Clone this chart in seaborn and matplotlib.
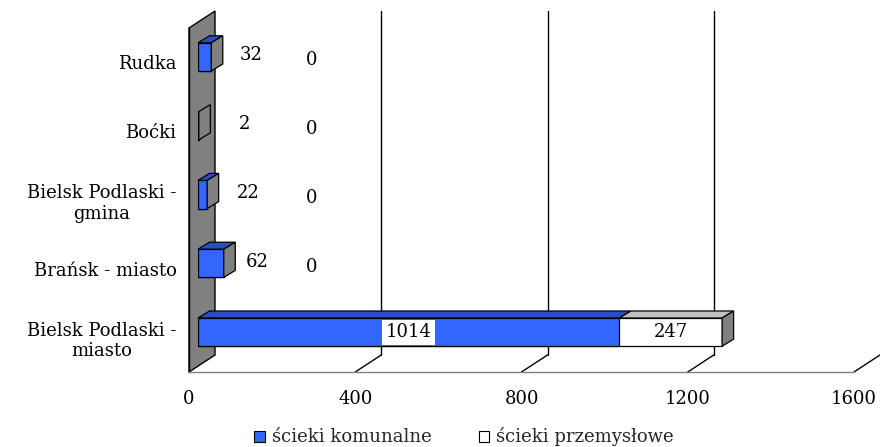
import matplotlib
matplotlib.use("Agg")
import numpy as np
import pandas as pd
import seaborn as sns
import matplotlib.pyplot as plt
from matplotlib.patches import Polygon, Patch
from matplotlib.lines import Line2D
from matplotlib.transforms import offset_copy

# --- data ---------------------------------------------------------------
gminy = ["Rudka", "Boćki", "Bielsk Podlaski -\ngmina", "Brańsk - miasto",
         "Bielsk Podlaski -\nmiasto"]
komunalne = [32, 2, 22, 62, 1014]
przemyslowe = [0, 0, 0, 0, 247]
x_ticks = [0, 400, 800, 1200, 1600]
series_names = ["ścieki komunalne", "ścieki przemysłowe"]

# --- style --------------------------------------------------------------
sns.set_theme(style="white")
plt.rcParams["font.family"] = ["DejaVu Serif", "DejaVu Sans"]
FS = 13
BLUE = "#3366FF"
BLUE_TOP = "#2A4EC6"
GREY = "#808080"
LIGHT = "#C0C0C0"

W, H = 880, 447
fig = plt.figure(figsize=(W / 100, H / 100), dpi=100)

# front plane of the 3-D box (pixel geometry)
X0, X1, YT, YB = 189, 854, 28, 372
AW, AH = X1 - X0, YB - YT
WALL = (26, 17)      # full depth of the box
BAR_SHIFT = (9, 5.5)  # bars sit a little behind the front plane
BAR_DEPTH = (11.5, 7)

XMAX = x_ticks[-1]
ux = XMAX / AW           # data units per pixel (x)
uy = len(gminy) / AH     # category units per pixel (y)

ax = fig.add_axes([X0 / W, 1 - YB / H, AW / W, AH / H])
bax = fig.add_axes([(X0 + BAR_SHIFT[0]) / W, 1 - (YB - BAR_SHIFT[1]) / H, AW / W, AH / H])
bax.patch.set_alpha(0)

n = len(gminy)
lo, hi = n - 0.5, -0.5

# --- box: wall, floor edges, back grid ----------------------------------
ax.set_xlim(0, XMAX)
ax.set_ylim(lo, hi)
dxw, dyw = WALL[0] * ux, WALL[1] * uy
ax.add_patch(Polygon([(0, lo), (0, hi), (dxw, hi - dyw), (dxw, lo - dyw)],
                     closed=True, facecolor=GREY, edgecolor="black", lw=1,
                     clip_on=False, zorder=1))
for t in x_ticks[1:]:
    if t < XMAX:
        ax.add_line(Line2D([t + dxw, t + dxw], [lo - dyw, hi - dyw], color="black",
                           lw=1, clip_on=False, zorder=0))
    ax.add_line(Line2D([t, t + dxw], [lo, lo - dyw], color="black",
                       lw=1, clip_on=False, zorder=0))

for s in ["top", "right"]:
    ax.spines[s].set_visible(False)
ax.spines["left"].set_color("black")
ax.spines["left"].set_linewidth(1)
ax.spines["bottom"].set_color(GREY)
ax.spines["bottom"].set_linewidth(1)
ax.patch.set_alpha(0)

ax.set_xticks(x_ticks)
ax.set_xticklabels([str(t) for t in x_ticks], fontsize=FS, color="black")
ax.tick_params(axis="x", direction="out", length=6, width=1, color=GREY, pad=7)
ax.set_yticks(range(n))
ax.set_yticklabels(gminy, fontsize=FS, color="black")
for lab in ax.get_yticklabels():
    lab.set_multialignment("center")
ax.tick_params(axis="y", which="major", length=0, pad=9)
ax.set_yticks(np.arange(-0.5, n, 1.0), minor=True)
ax.tick_params(axis="y", which="minor", direction="out", length=8, width=1,
               color="black")

# --- bars ---------------------------------------------------------------
df = pd.DataFrame({"gmina": gminy, "komunalne": komunalne,
                   "przemyslowe": przemyslowe})
df["suma"] = df["komunalne"] + df["przemyslowe"]

BW = 0.41
sns.barplot(data=df, x="suma", y="gmina", order=gminy, color="white",
            saturation=1, width=BW, edgecolor="black", linewidth=0.9, ax=bax)
sns.barplot(data=df, x="komunalne", y="gmina", order=gminy, color=BLUE,
            saturation=1, width=BW, edgecolor="black", linewidth=0.9, ax=bax)
bax.set_xlim(0, XMAX)
bax.set_ylim(lo, hi)
bax.axis("off")

ddx, ddy = BAR_DEPTH[0] * ux, BAR_DEPTH[1] * uy
for i, row in df.iterrows():
    yt, yb = i - BW / 2, i + BW / 2
    segs = [(0, row["komunalne"], BLUE_TOP), (row["komunalne"], row["suma"], LIGHT)]
    for a, b, col in segs:
        if b - a <= 0 or (b - a) / ux < 2:
            continue
        bax.add_patch(Polygon([(a, yt), (b, yt), (b + ddx, yt - ddy), (a + ddx, yt - ddy)],
                              closed=True, facecolor=col, edgecolor="black",
                              lw=0.9, clip_on=False, zorder=3))
    e = row["suma"]
    bax.add_patch(Polygon([(e, yt), (e, yb), (e + ddx, yb - ddy), (e + ddx, yt - ddy)],
                          closed=True, facecolor=GREY, edgecolor="black",
                          lw=0.9, clip_on=False, zorder=3))

# --- value labels -------------------------------------------------------
for i, row in df.iterrows():
    k, p = row["komunalne"], row["przemyslowe"]
    if k / ux > 60:
        bax.text(k / 2, i, str(k), ha="center", va="center", fontsize=FS,
                 color="black", zorder=5,
                 bbox=dict(facecolor="white", edgecolor="none", pad=2.5))
        bax.text(k + p / 2, i, str(p), ha="center", va="center", fontsize=FS,
                 color="black", zorder=5)
    else:
        tr_k = offset_copy(bax.transData, fig=fig, x=46, y=1.5, units="dots")
        bax.text(k / 2, i, str(k), ha="center", va="center", fontsize=FS,
                 color="black", transform=tr_k, zorder=5)
        tr_p = offset_copy(bax.transData, fig=fig, x=114, y=-3.5, units="dots")
        bax.text(0, i, str(p), ha="center", va="center", fontsize=FS,
                 color="black", transform=tr_p, zorder=5)

# --- legend -------------------------------------------------------------
handles = [Patch(facecolor=BLUE, edgecolor="black", lw=0.8),
           Patch(facecolor="white", edgecolor="black", lw=0.8)]
fig.legend(handles, series_names, loc="center", ncol=2,
           bbox_to_anchor=(464 / W, 1 - 437 / H), frameon=False, fontsize=FS,
           handlelength=0.58, handleheight=0.58, handletextpad=0.4,
           columnspacing=2.6)

fig.savefig("out.png", dpi=100)
